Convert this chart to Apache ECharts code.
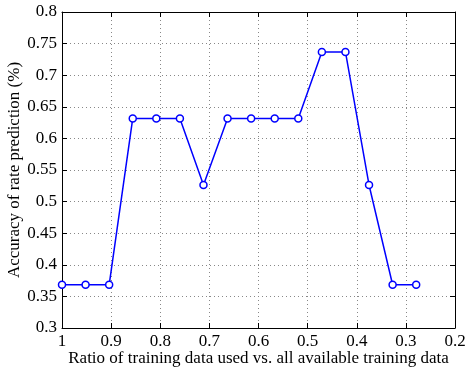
<!DOCTYPE html>
<html><head><meta charset="utf-8">
<script src="https://cdn.jsdelivr.net/npm/echarts@6/dist/echarts.min.js"></script>
<style>html,body{margin:0;padding:0;background:#fff}#c{width:467px;height:372px}</style>
</head><body><div id="c"></div>
<script>
const ratios = [1, 0.952, 0.904, 0.856, 0.808, 0.760, 0.712, 0.663, 0.615, 0.567, 0.519, 0.471, 0.423, 0.375, 0.327, 0.279];
const accuracy = [0.3684, 0.3684, 0.3684, 0.6316, 0.6316, 0.6316, 0.5263, 0.6316, 0.6316, 0.6316, 0.6316, 0.7368, 0.7368, 0.5263, 0.3684, 0.3684];
const xTitle = 'Ratio of training data used vs. all available training data';
const yTitle = 'Accuracy of rate prediction (%)';

const font = 'Liberation Serif';
const fmt = v => String(+v.toFixed(2));
const chart = echarts.init(document.getElementById('c'), null, {renderer: 'canvas'});
const axisCommon = {
  axisLine: {show: true, onZero: false, lineStyle: {color: '#000', width: 1}},
  axisTick: {show: true, inside: true, length: 5, lineStyle: {color: '#000'}},
};
chart.setOption({
  animation: false,
  grid: {left: 62, right: 12, top: 12, bottom: 44, containLabel: false, outerBoundsMode: 'none'},
  xAxis: [
    Object.assign({
      type: 'value', min: 0.2, max: 1, interval: 0.1, inverse: true,
      name: xTitle, nameLocation: 'middle', nameGap: 22, nameMoveOverlap: false,
      nameTextStyle: {fontFamily: font, fontSize: 17, color: '#000'},
      axisLabel: {formatter: fmt, fontFamily: font, fontSize: 17, color: '#000', margin: 5},
      splitLine: {show: true, lineStyle: {color: '#888', type: [1, 3], width: 1}}
    }, axisCommon),
    Object.assign({
      type: 'value', min: 0.2, max: 1, interval: 0.1, inverse: true, position: 'top',
      axisLabel: {show: false}, splitLine: {show: false}
    }, axisCommon)
  ],
  yAxis: [
    Object.assign({
      type: 'value', min: 0.3, max: 0.8, interval: 0.05,
      name: yTitle, nameLocation: 'middle', nameGap: 39, nameRotate: 90, nameMoveOverlap: false,
      nameTextStyle: {fontFamily: font, fontSize: 17, color: '#000'},
      axisLabel: {formatter: fmt, fontFamily: font, fontSize: 17, color: '#000', margin: 5},
      splitLine: {show: true, lineStyle: {color: '#888', type: [1, 3], width: 1}}
    }, axisCommon),
    Object.assign({
      type: 'value', min: 0.3, max: 0.8, interval: 0.05, position: 'right',
      axisLabel: {show: false}, splitLine: {show: false}
    }, axisCommon)
  ],
  series: [{
    type: 'line',
    data: ratios.map((r, i) => [r, accuracy[i]]),
    symbol: 'circle', symbolSize: 7, showAllSymbol: true,
    lineStyle: {color: '#0000ff', width: 1.5},
    itemStyle: {color: '#ffffff', borderColor: '#0000ff', borderWidth: 1.5}
  }]
});
</script></body></html>
